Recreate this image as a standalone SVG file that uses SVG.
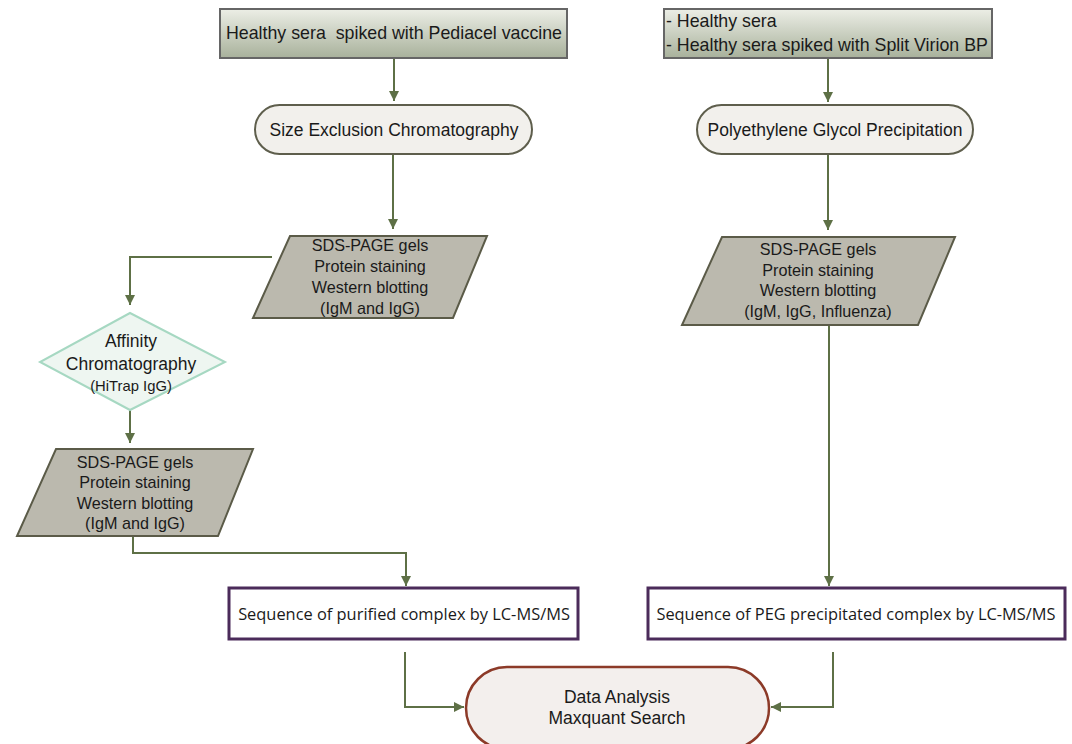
<svg xmlns="http://www.w3.org/2000/svg" width="1072" height="744" viewBox="0 0 1072 744">
<style>
text{font-family:"Liberation Sans",Arial,sans-serif;fill:#1a1a1a;text-anchor:middle;dominant-baseline:central;white-space:pre}
.start{stroke:#666;stroke-width:2;fill:url(#g1)}
.pill{fill:#f2f0ec;stroke:#5e5e4c;stroke-width:2}
.para{fill:#bbb9ae;stroke:#5b5b48;stroke-width:2}
.dia{fill:#eef6f1;stroke:#a6d8c2;stroke-width:2}
.seq{fill:#fff;stroke:#4b2b5a;stroke-width:3}
.end{fill:#f3efed;stroke:#8c3a28;stroke-width:2.5}
.c{fill:none;stroke:#5e7046;stroke-width:2}
.t18{font-size:17.8px}
.t17{font-size:17.5px}
.t16{font-size:16.2px}
.t14{font-size:14.8px}
.cal{font-family:"Open Sans","Liberation Sans",sans-serif;font-size:16.4px}
</style>
<defs>
<linearGradient id="g1" x1="0" y1="0" x2="0" y2="1">
<stop offset="0" stop-color="#eceee6"/>
<stop offset="1" stop-color="#a8b19b"/>
</linearGradient>
<marker id="ah" viewBox="0 0 10 10" refX="10" refY="5" markerWidth="5" markerHeight="5" orient="auto" markerUnits="strokeWidth">
<path d="M0,0 L10,5 L0,10 z" fill="#5e7046"/>
</marker>
</defs>
<g id="connectors">
<path class="c" d="M394,58 V101" marker-end="url(#ah)"/>
<path class="c" d="M393,154 V229" marker-end="url(#ah)"/>
<path class="c" d="M272,257 H130 V305" marker-end="url(#ah)"/>
<path class="c" d="M130,410 V443" marker-end="url(#ah)"/>
<path class="c" d="M133,536 V553 H406 V586" marker-end="url(#ah)"/>
<path class="c" d="M828,58 V102" marker-end="url(#ah)"/>
<path class="c" d="M828,154 V230" marker-end="url(#ah)"/>
<path class="c" d="M829,325 V586" marker-end="url(#ah)"/>
<path class="c" d="M405,652 V707 H464" marker-end="url(#ah)"/>
<path class="c" d="M833,652 V707 H771" marker-end="url(#ah)"/>
</g>
<g id="n1">
<rect class="start" x="220" y="9" width="347" height="49"/>
<text class="t18" x="394" y="33" xml:space="preserve">Healthy sera  spiked with Pediacel vaccine</text>
</g>
<g id="n2">
<rect class="start" x="664" y="9" width="328" height="49"/>
<text class="t18" x="666" y="21" style="text-anchor:start">- Healthy sera</text>
<text class="t18" x="666" y="45" style="text-anchor:start">- Healthy sera spiked with Split Virion BP</text>
</g>
<g id="n3">
<rect class="pill" x="255" y="105" width="277" height="49" rx="24.5"/>
<text class="t17" x="394" y="130">Size Exclusion Chromatography</text>
</g>
<g id="n4">
<rect class="pill" x="697" y="105" width="276" height="49" rx="24.5"/>
<text class="t17" x="835" y="130">Polyethylene Glycol Precipitation</text>
</g>
<g id="n5">
<polygon class="para" points="290,236 487,236 453,318 253,318"/>
<text class="t16" x="370" y="245">SDS-PAGE gels</text>
<text class="t16" x="370" y="266">Protein staining</text>
<text class="t16" x="370" y="287">Western blotting</text>
<text class="t16" x="370" y="308">(IgM and IgG)</text>
</g>
<g id="n6">
<polygon class="para" points="722,237 955,237 918,325 682,325"/>
<text class="t16" x="818" y="249">SDS-PAGE gels</text>
<text class="t16" x="818" y="270">Protein staining</text>
<text class="t16" x="818" y="290">Western blotting</text>
<text class="t16" x="818" y="311">(IgM, IgG, Influenza)</text>
</g>
<g id="n7">
<polygon class="dia" points="130,313 225,362 130,410 40,362"/>
<text class="t17" x="131" y="341">Affinity</text>
<text class="t17" x="131" y="364">Chromatography</text>
<text class="t14" x="131" y="386">(HiTrap IgG)</text>
</g>
<g id="n8">
<polygon class="para" points="56,449 253,449 218,536 17,536"/>
<text class="t16" x="135" y="462">SDS-PAGE gels</text>
<text class="t16" x="135" y="482">Protein staining</text>
<text class="t16" x="135" y="503">Western blotting</text>
<text class="t16" x="135" y="523">(IgM and IgG)</text>
</g>
<g id="n9">
<rect class="seq" x="229" y="588" width="349" height="51"/>
<text class="cal" x="404" y="613">Sequence of purified complex by LC-MS/MS</text>
</g>
<g id="n10">
<rect class="seq" x="648" y="588" width="417" height="51"/>
<text class="cal" x="856" y="613">Sequence of PEG precipitated complex by LC-MS/MS</text>
</g>
<g id="n11">
<rect class="end" x="466" y="667" width="303" height="82" rx="41"/>
<text class="t17" x="617" y="697">Data Analysis</text>
<text class="t17" x="617" y="718">Maxquant Search</text>
</g>
</svg>
